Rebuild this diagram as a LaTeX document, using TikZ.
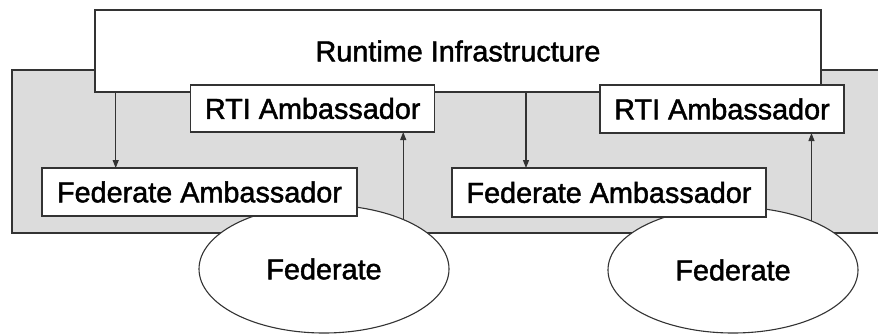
\documentclass[tikz,border=0pt]{standalone}
\usepackage{fontspec}
\setmainfont[FakeBold=1.6]{Liberation Sans}
\usetikzlibrary{shapes.geometric,arrows.meta}
\definecolor{panelgray}{HTML}{DCDCDC}
\definecolor{edge}{HTML}{333333}
\tikzset{
  box/.style={draw=edge, line width=1.1pt, fill=white, rectangle,
    inner sep=0pt, outer sep=0pt,
    font=\fontsize{28.8}{34}\selectfont},
  oval/.style={draw=edge, line width=1.1pt, fill=white, ellipse,
    inner sep=0pt, outer sep=0pt,
    font=\fontsize{28.8}{34}\selectfont},
  flow/.style={draw=edge, line width=1.1pt, -{Triangle[length=8pt,width=6pt]}}
}
\begin{document}
\begin{tikzpicture}[x=1pt, y=-1pt]
  \useasboundingbox (0,0) rectangle (878,335);

  % shaded federation panel (runs past the right edge)
  \node[box, fill=panelgray, minimum width=868pt, minimum height=163pt,
        anchor=north west] (panel) at (12,70) {};

  % runtime infrastructure
  \node[box, minimum width=726pt, minimum height=82pt] (runtime) at (458,51)
    {Runtime Infrastructure};

  % federates (drawn below the ambassador boxes)
  \node[oval, minimum width=250pt, minimum height=128pt] (fedL) at (324,269) {Federate};
  \node[oval, minimum width=250pt, minimum height=126pt] (fedR) at (733,270) {Federate};

  % ambassadors
  \node[box, minimum width=244pt, minimum height=47pt] (rtiL) at (312.7,108.5) {RTI Ambassador};
  \node[box, minimum width=244pt, minimum height=48pt] (rtiR) at (722,109) {RTI Ambassador};
  \node[box, minimum width=315pt, minimum height=48pt] (famL) at (199.5,192) {Federate Ambassador};
  \node[box, minimum width=314pt, minimum height=49pt] (famR) at (609,192.5) {Federate Ambassador};

  % callbacks from the RTI to the federate ambassadors
  \coordinate (dL) at (115.7,0);
  \coordinate (dR) at (526,0);
  \draw[flow] (runtime.south -| dL) -- (famL.north -| dL);
  \draw[flow] (runtime.south -| dR) -- (famR.north -| dR);

  % calls from the federates to the RTI ambassadors
  \draw[flow] (fedL.32.7) -- (fedL.32.7 |- rtiL.south);
  \draw[flow] (fedR.32) -- (fedR.32 |- rtiR.south);
\end{tikzpicture}
\end{document}
